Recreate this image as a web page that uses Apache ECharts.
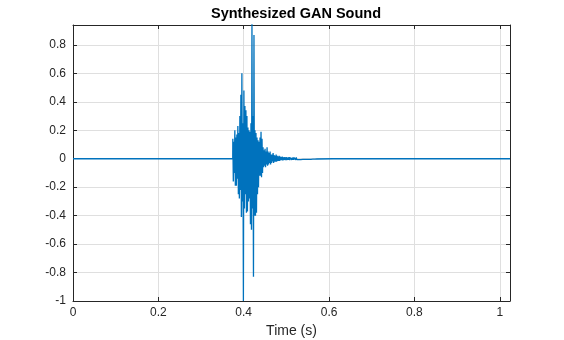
<!DOCTYPE html>
<html>
<head>
<meta charset="utf-8">
<script src="https://cdn.jsdelivr.net/npm/echarts@6/dist/echarts.min.js"></script>
<style>html,body{margin:0;padding:0;background:#fff}#c{width:564px;height:340px}</style>
</head>
<body>
<div id="c"></div>
<script>
// Axis ranges & ticks
const xMin = 0, xMax = 1.024, xInterval = 0.2;
const yMin = -1, yMax = 0.94, yInterval = 0.2;

// Sound burst: alternating peak/trough samples
const burstStart = 0.3745;     // s
const burstStep = 0.00118;     // s between samples
const burstValues = [
  0.14,-0.16, 0.12,-0.10, 0.20,-0.19, 0.15,-0.19, 0.17,-0.14,
  0.23,-0.25, 0.18,-0.28, 0.30,-0.22, 0.45,-0.41, 0.60,-0.30,
  0.25,-1.00, 0.48,-0.35, 0.37,-0.25, 0.34,-0.38, 0.30,-0.37,
  0.22,-0.30, 0.20,-0.28, 0.19,-0.46, 0.25,-0.50, 0.96,-0.35,
  0.30,-0.83, 0.87,-0.40, 0.20,-0.40, 0.18,-0.38, 0.15,-0.25,
  0.13,-0.20, 0.12,-0.12, 0.15,-0.12, 0.19,-0.13, 0.14,-0.10,
  0.08,-0.06, 0.06,-0.05, 0.07,-0.06, 0.05,-0.04, 0.08,-0.05,
  0.05,-0.04, 0.04,-0.03, 0.05,-0.04, 0.03,-0.03, 0.03,-0.02,
  0.04,-0.03, 0.025,-0.02, 0.02,-0.02, 0.03,-0.02, 0.02,-0.015,
  0.015,-0.015, 0.02,-0.015, 0.015,-0.01, 0.012,-0.01, 0.015,-0.012,
  0.01,-0.01, 0.012,-0.008, 0.01,-0.01, 0.012,-0.01, 0.008,-0.008,
  0.01,-0.008, 0.012,-0.01, 0.008,-0.006, 0.01,-0.008, 0.008,-0.007,
  0.01,-0.008, 0.007,-0.006, 0.008,-0.008, 0.009,-0.006, 0.007,-0.006,
  0.006,-0.006, 0.008,-0.005, 0.006,-0.006, 0.007,-0.005, 0.005,-0.005,
  0.006,-0.005, 0.005,-0.004, 0.006,-0.005, 0.005,-0.004, 0.004,-0.004,
  0.005,-0.004, 0.004,-0.003, 0.005,-0.004, 0.004,-0.003, 0.003,-0.003,
  0.004,-0.003, 0.003,-0.003, 0.003,-0.002, 0.002,-0.002, 0.002,-0.002
];
// Silent segments before and after the burst
const silenceBefore = [[0, 0], [0.3743, 0]];
const silenceAfter = [[0.61, 0], [1.024, 0]];

const data = [];
silenceBefore.forEach(p => data.push(p));
burstValues.forEach((v, i) => data.push([burstStart + i * burstStep, v]));
silenceAfter.forEach(p => data.push(p));

const axisColor = '#262626';
const gridColor = '#dfdfdf';
const font = 'Arial, "Liberation Sans", Helvetica, sans-serif';

function secondary(base) {
  return Object.assign({
    axisLine: {show: true, onZero: false, lineStyle: {color: axisColor}},
    axisTick: {show: true, inside: true, length: 4, lineStyle: {color: axisColor}},
    axisLabel: {show: false}, splitLine: {show: false}
  }, base);
}

const chart = echarts.init(document.getElementById('c'), null, {renderer: 'canvas'});
chart.setOption({
  animation: false,
  title: {
    text: 'Synthesized GAN Sound',
    left: 291, top: 1, textAlign: 'center',
    textStyle: {fontFamily: font, fontSize: 14.5, fontWeight: 'bold', color: '#000'}
  },
  grid: {left: 73, right: 54, top: 25, bottom: 39, show: false, containLabel: false, outerBoundsMode: 'none'},
  xAxis: [{
    type: 'value', min: xMin, max: xMax, interval: xInterval, position: 'bottom',
    name: 'Time (s)', nameLocation: 'middle', nameGap: 19,
    nameTextStyle: {fontFamily: font, fontSize: 14, color: axisColor},
    axisLine: {show: true, onZero: false, lineStyle: {color: axisColor}},
    axisTick: {show: true, inside: true, length: 4, lineStyle: {color: axisColor}},
    axisLabel: {fontFamily: font, fontSize: 12, color: axisColor, margin: 6, showMaxLabel: false},
    splitLine: {show: true, lineStyle: {color: gridColor}}
  }, secondary({type: 'value', position: 'top', min: xMin, max: xMax, interval: xInterval})],
  yAxis: [{
    type: 'value', min: yMin, max: yMax, interval: yInterval, position: 'left',
    axisLine: {show: true, onZero: false, lineStyle: {color: axisColor}},
    axisTick: {show: true, inside: true, length: 4, lineStyle: {color: axisColor}},
    axisLabel: {fontFamily: font, fontSize: 12, color: axisColor, margin: 7, showMaxLabel: false},
    splitLine: {show: true, lineStyle: {color: gridColor}}
  }, secondary({type: 'value', position: 'right', min: yMin, max: yMax, interval: yInterval})],
  series: [{
    type: 'line', data: data, xAxisIndex: 0, yAxisIndex: 0,
    showSymbol: false, symbol: 'none', clip: true,
    lineStyle: {color: '#0072BD', width: 1.3},
    emphasis: {disabled: true}
  }]
});
</script>
</body>
</html>
